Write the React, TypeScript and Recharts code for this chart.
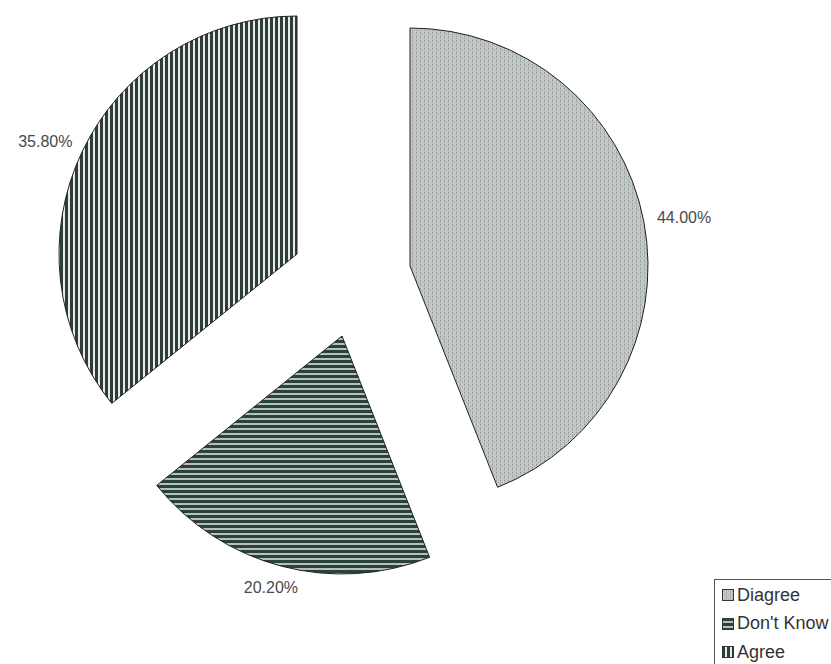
import { Cell, Legend, Pie, PieChart } from "recharts";

const categories = ["Diagree", "Don't Know", "Agree"];
const shares = [44.0, 20.2, 35.8];
const percentLabels = ["44.00%", "20.20%", "35.80%"];

const fills = ["url(#dotGray)", "url(#hStripe)", "url(#vStripe)"];

// each slice is pulled out of the pie, so each one gets its own centre
const centers = [
  { cx: 410, cy: 266 },
  { cx: 342, cy: 336 },
  { cx: 297, cy: 254 },
];
const RADIUS = 238;

const data = categories.map((name, i) => ({ name, value: shares[i] }));

const RAD = Math.PI / 180;

const makeLabel = (target: number) => (props: any) => {
  if (props.index !== target) return null;
  const { cx, cy, midAngle, outerRadius } = props;
  const cos = Math.cos(-midAngle * RAD);
  const sin = Math.sin(-midAngle * RAD);
  const r = outerRadius + 14;
  const x = cx + r * cos + cos * 27;
  const y = cy + r * sin + sin * 8;
  return (
    <text
      x={x}
      y={y}
      textAnchor="middle"
      dominantBaseline="central"
      fill="#4a4a4a"
      fontSize={16}
      fontFamily="'Liberation Sans', Arial, sans-serif"
    >
      {percentLabels[target]}
    </text>
  );
};

function LegendBox() {
  return (
    <div
      style={{
        border: "1px solid #555",
        background: "#fff",
        padding: "1px 0 0 7px",
        height: 110,
        boxSizing: "border-box",
        fontFamily: "'Liberation Sans', Arial, sans-serif",
        fontSize: 18,
        color: "#333",
      }}
    >
      {categories.map((c, i) => (
        <div key={c} style={{ display: "flex", alignItems: "center", height: 28.5, whiteSpace: "nowrap" }}>
          <svg width={12} height={12} style={{ marginRight: 3 }}>
            <rect x={0.5} y={0.5} width={11} height={11} fill={fills[i]} stroke="#333" />
          </svg>
          <span>{c}</span>
        </div>
      ))}
    </div>
  );
}

export default function App() {
  return (
    <div style={{ width: 831, height: 664, overflow: "hidden", position: "relative", background: "#fff" }}>
      <style>{`body{margin:0}`}</style>
      <PieChart width={831} height={664} margin={{ top: 0, right: 0, bottom: 0, left: 0 }}>
        <defs>
          <pattern id="dotGray" width={4} height={4} patternUnits="userSpaceOnUse">
            <rect width={4} height={4} fill="#c6cac6" />
            <rect x={0} y={0} width={1} height={4} fill="#b2b8b4" />
            <rect x={0} y={0} width={1} height={1} fill="#8c9490" />
            <rect x={2} y={2} width={1} height={1} fill="#a2a8a4" />
          </pattern>
          <pattern id="hStripe" width={5} height={5} patternUnits="userSpaceOnUse">
            <rect width={5} height={5} fill="#b4c0bb" />
            <rect x={0} y={0} width={5} height={3} fill="#2a4239" />
          </pattern>
          <pattern id="vStripe" width={5} height={5} patternUnits="userSpaceOnUse">
            <rect width={5} height={5} fill="#e8ece8" />
            <rect x={0} y={0} width={3} height={5} fill="#2f3d39" />
          </pattern>
        </defs>
        {centers.map((c, target) => (
          <Pie
            key={categories[target]}
            data={data}
            dataKey="value"
            nameKey="name"
            cx={c.cx}
            cy={c.cy}
            outerRadius={RADIUS}
            startAngle={90}
            endAngle={-270}
            labelLine={false}
            label={makeLabel(target)}
            isAnimationActive={false}
          >
            {data.map((d, i) => (
              <Cell
                key={d.name}
                fill={i === target ? fills[i] : "none"}
                stroke={i === target ? "#222" : "none"}
                strokeWidth={1}
              />
            ))}
          </Pie>
        ))}
        <Legend
          layout="vertical"
          align="right"
          verticalAlign="bottom"
          wrapperStyle={{ position: "absolute", left: 714, top: 579, width: 140, height: 110 }}
          content={() => <LegendBox />}
        />
      </PieChart>
    </div>
  );
}
